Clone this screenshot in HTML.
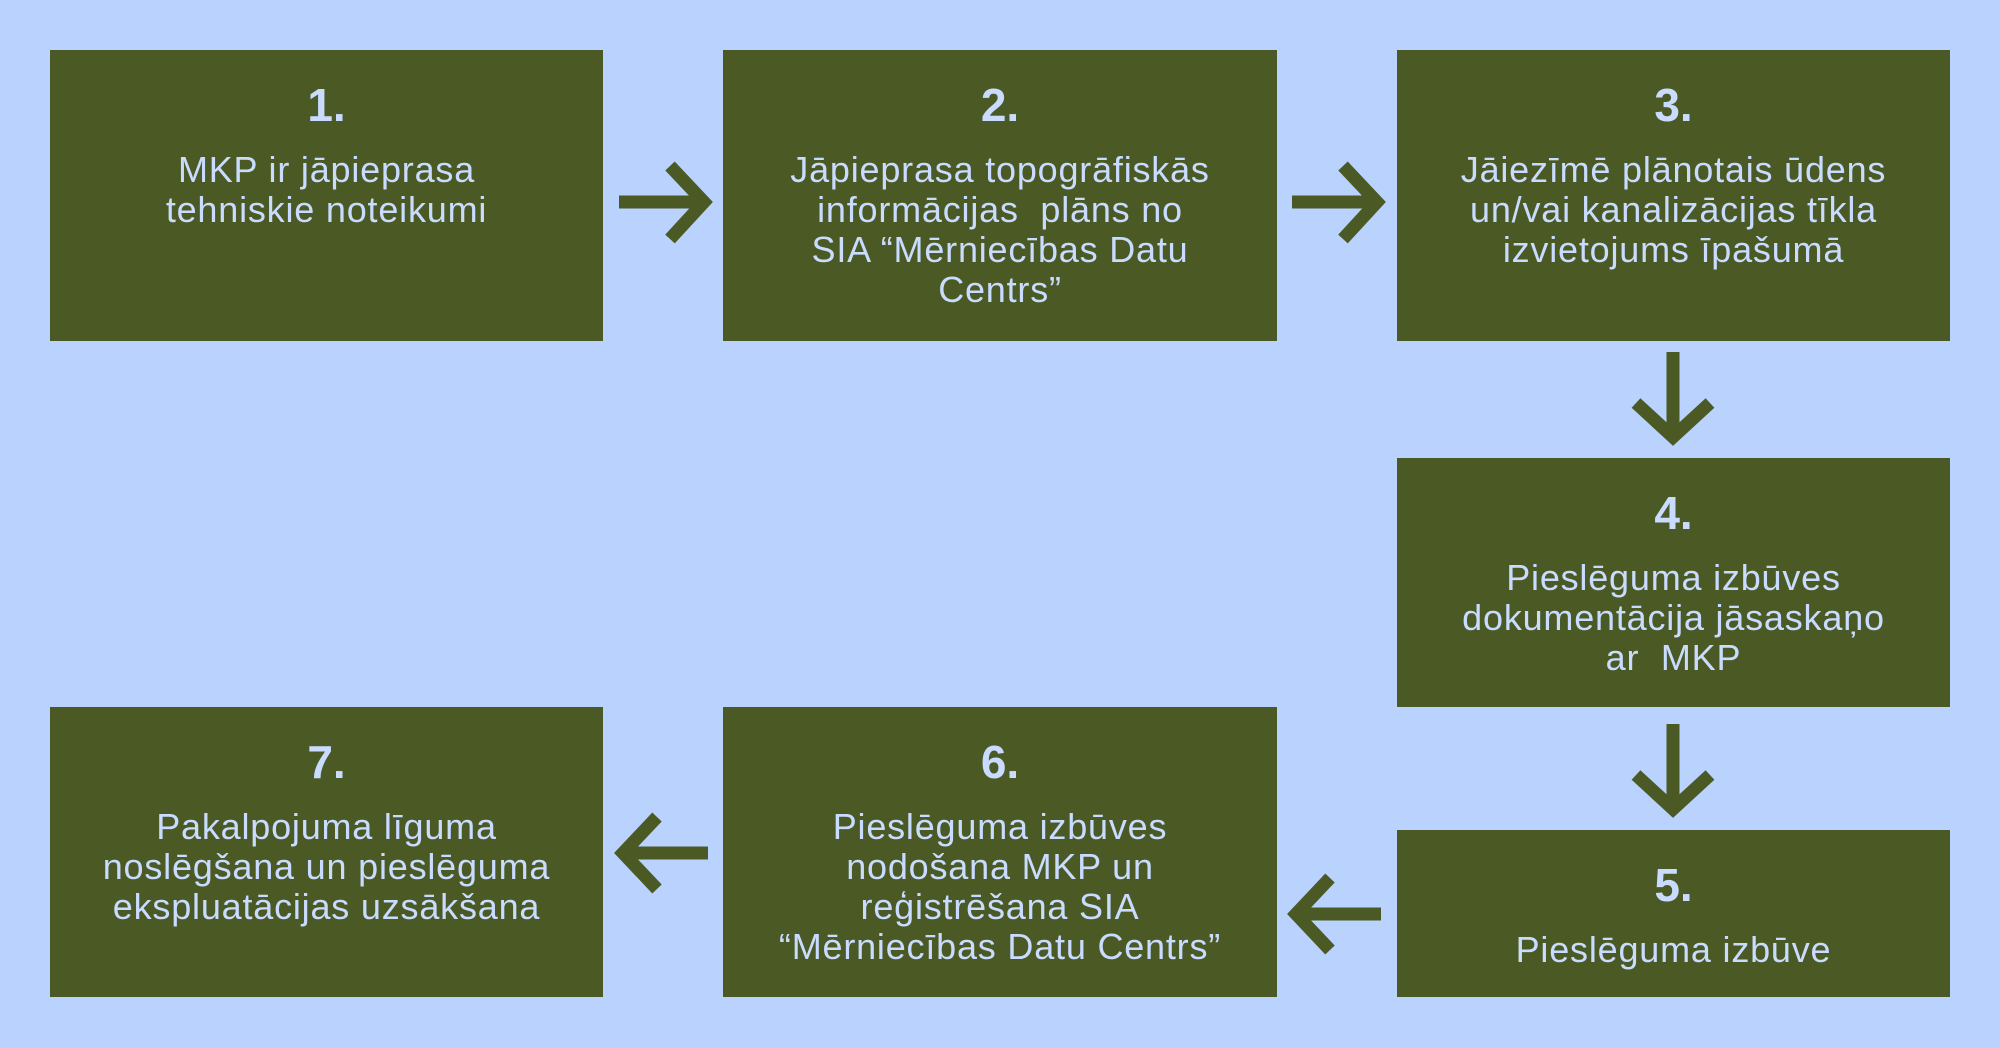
<!DOCTYPE html>
<html><head><meta charset="utf-8"><style>
html,body{margin:0;padding:0;}
body{width:2000px;height:1048px;background:#bad3fe;position:relative;overflow:hidden;font-family:"Liberation Sans",sans-serif;}
.b{position:absolute;background:#4b5a25;color:#c9dcff;text-align:center;}
.n{position:absolute;left:0;right:0;top:30px;font-size:46px;font-weight:bold;line-height:50px;}
.t{position:absolute;left:0;right:0;top:100px;font-size:36px;line-height:40px;letter-spacing:0.8px;}
svg{position:absolute;left:0;top:0;}
</style></head><body>
<div class="b" style="left:50px;top:50px;width:553px;height:291px"><div class="n">1.</div><div class="t">MKP ir jāpieprasa<br>tehniskie noteikumi</div></div>
<div class="b" style="left:723px;top:50px;width:554px;height:291px"><div class="n">2.</div><div class="t">Jāpieprasa topogrāfiskās<br>informācijas&nbsp; plāns no<br>SIA “Mērniecības Datu<br>Centrs”</div></div>
<div class="b" style="left:1397px;top:50px;width:553px;height:291px"><div class="n">3.</div><div class="t">Jāiezīmē plānotais ūdens<br>un/vai kanalizācijas tīkla<br>izvietojums īpašumā</div></div>
<div class="b" style="left:1397px;top:458px;width:553px;height:249px"><div class="n">4.</div><div class="t">Pieslēguma izbūves<br>dokumentācija jāsaskaņo<br>ar&nbsp; MKP</div></div>
<div class="b" style="left:1397px;top:830px;width:553px;height:167px"><div class="n">5.</div><div class="t">Pieslēguma izbūve</div></div>
<div class="b" style="left:723px;top:707px;width:554px;height:290px"><div class="n">6.</div><div class="t">Pieslēguma izbūves<br>nodošana MKP un<br>reģistrēšana SIA<br>“Mērniecības Datu Centrs”</div></div>
<div class="b" style="left:50px;top:707px;width:553px;height:290px"><div class="n">7.</div><div class="t">Pakalpojuma līguma<br>noslēgšana un pieslēguma<br>ekspluatācijas uzsākšana</div></div>
<svg width="2000" height="1048" fill="none" stroke="#4b5a25" stroke-width="13">
<g><line x1="619" y1="202" x2="700" y2="202"/><polyline points="670,166 704,202 670,239"/></g>
<g><line x1="1292" y1="202" x2="1373" y2="202"/><polyline points="1343,166 1377,202 1343,239"/></g>
<g><line x1="1673" y1="352" x2="1673" y2="433"/><polyline points="1636,403 1673,437 1710,403"/></g>
<g><line x1="1673" y1="724" x2="1673" y2="805"/><polyline points="1636,775 1673,809 1710,775"/></g>
<g><line x1="1381" y1="914" x2="1300" y2="914"/><polyline points="1330,878 1296,914 1330,950"/></g>
<g><line x1="708" y1="853" x2="627" y2="853"/><polyline points="657,817 623,853 657,889"/></g>
</svg>
</body></html>
